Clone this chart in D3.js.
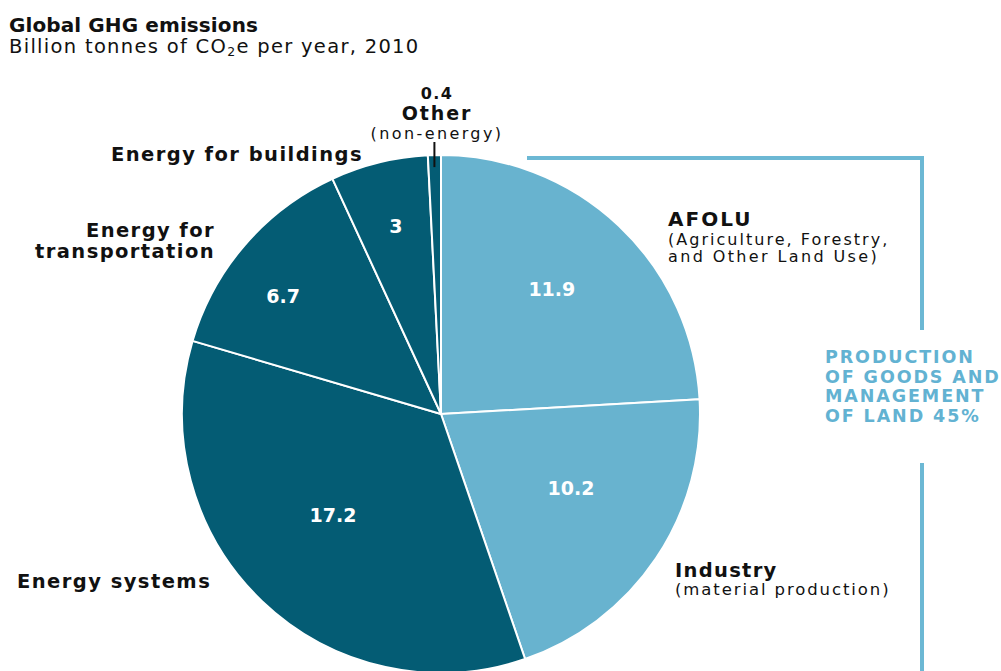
<!DOCTYPE html>
<html>
<head>
<meta charset="utf-8">
<script src="https://cdn.jsdelivr.net/npm/d3@7/dist/d3.min.js"></script>
<style>
  html, body { margin: 0; padding: 0; background: #fff; }
  svg { display: block; }
  text { font-family: "DejaVu Sans", "Noto Sans", sans-serif; }
</style>
</head>
<body>
<svg id="chart" width="1001" height="671"></svg>
<script>
// Global GHG emissions by sector, billion tonnes CO2e, 2010 (clockwise from top)
const sectors = ["AFOLU", "Industry", "Energy systems", "Energy for transportation", "Energy for buildings", "Other"];
const emissions = [11.9, 10.2, 17.2, 6.7, 3, 0.4];
const groups = ["production", "production", "energy", "energy", "energy", "energy"];
const valueLabels = ["11.9", "10.2", "17.2", "6.7", "3", "0.4"];

const svg = d3.select("#chart");
const W = 1001, H = 671;
const cx = 441, cy = 414, R = 259;

const color = d3.scaleOrdinal()
  .domain(["production", "energy"])
  .range(["#68b3cf", "#045c74"]);

const pie = d3.pie().sort(null).value(d => d.value);
const arcs = pie(sectors.map((s, i) => ({ name: s, value: emissions[i], group: groups[i], label: valueLabels[i] })));
const arc = d3.arc().innerRadius(0).outerRadius(R);

const g = svg.append("g").attr("transform", `translate(${cx},${cy})`);

g.selectAll("path.slice")
  .data(arcs)
  .enter().append("path")
  .attr("class", "slice")
  .attr("d", arc)
  .attr("fill", d => color(d.data.group))
  .attr("stroke", "#fff")
  .attr("stroke-width", 2)
  .attr("stroke-linejoin", "round");

// white value labels inside slices: radius (fraction of R) and angle nudge (deg) from mid-angle
// (the thin "Other" slice is labelled outside)
const labelPlace = [[0.645, -1.8], [0.578, -4.1], [0.572, 3.1], [0.761, -4.0], [0.746, 0.3]];
g.selectAll("text.val")
  .data(arcs.slice(0, 5))
  .enter().append("text")
  .attr("class", "val")
  .attr("transform", (d, i) => {
    const a = (d.startAngle + d.endAngle) / 2 + labelPlace[i][1] * Math.PI / 180;
    const r = R * labelPlace[i][0];
    return `translate(${r * Math.sin(a)},${-r * Math.cos(a) + 7})`;
  })
  .attr("text-anchor", "middle")
  .attr("fill", "#fff")
  .attr("font-weight", "bold")
  .attr("font-size", 19)
  .text(d => d.data.label);

// title
svg.append("text").attr("x", 9).attr("y", 32)
  .attr("font-weight", "bold").attr("font-size", 20).attr("fill", "#111")
  .attr("letter-spacing", 0.1)
  .text("Global GHG emissions");
const sub = svg.append("text").attr("x", 9).attr("y", 53)
  .attr("font-size", 19.5).attr("fill", "#111").attr("letter-spacing", 1.3);
sub.append("tspan").text("Billion tonnes of CO");
sub.append("tspan").attr("font-size", 12.5).attr("dy", 3).text("2");
sub.append("tspan").attr("dy", -3).text("e per year, 2010");

// category labels
function label(x, y, anchor, lines) {
  const t = svg.append("text").attr("x", x).attr("y", y).attr("text-anchor", anchor).attr("fill", "#111");
  lines.forEach((l, i) => {
    t.append("tspan").attr("x", x).attr("dy", i === 0 ? 0 : l.dy)
      .attr("font-weight", l.bold ? "bold" : "normal")
      .attr("font-size", l.size)
      .attr("letter-spacing", l.ls || 0)
      .text(l.text);
  });
}

label(437, 99, "middle", [{ text: valueLabels[5], bold: true, size: 16, ls: 1.4 }]);
label(437, 120, "middle", [
  { text: "Other", bold: true, size: 19, ls: 1.9 },
  { text: "(non-energy)", size: 16, dy: 19, ls: 2.4 }
]);
label(363, 161, "end", [{ text: "Energy for buildings", bold: true, size: 19.5, ls: 1.45 }]);
label(215, 237, "end", [
  { text: "Energy for", bold: true, size: 19.5, ls: 1.4 },
  { text: "transportation", size: 19.5, bold: true, dy: 21, ls: 1.4 }
]);
label(17, 588, "start", [{ text: "Energy systems", bold: true, size: 19.5, ls: 1.45 }]);
label(668, 226, "start", [
  { text: "AFOLU", bold: true, size: 20, ls: 2 },
  { text: "(Agriculture, Forestry,", size: 16, dy: 18.5, ls: 2.03 },
  { text: "and Other Land Use)", size: 16, dy: 17.5, ls: 2.38 }
]);
label(675, 577, "start", [
  { text: "Industry", bold: true, size: 19.5, ls: 1.3 },
  { text: "(material production)", size: 16.5, dy: 18, ls: 1.9 }
]);

// leader for the "Other" slice
const other = arcs[5];
const oa = (other.startAngle + other.endAngle) / 2;
svg.append("line")
  .attr("x1", cx + R * Math.sin(oa)).attr("x2", cx + R * Math.sin(oa))
  .attr("y1", 142).attr("y2", cy - R * Math.cos(oa) + 12)
  .attr("stroke", "#111").attr("stroke-width", 2);

// bracket spanning the production sectors
const bracketColor = "#6cb8d4";
svg.append("path")
  .attr("d", `M527,158 H922 V330`)
  .attr("fill", "none").attr("stroke", bracketColor).attr("stroke-width", 4);
svg.append("path")
  .attr("d", `M922,463 V${H}`)
  .attr("fill", "none").attr("stroke", bracketColor).attr("stroke-width", 4);

const share = Math.round(100 * d3.sum(emissions.filter((v, i) => groups[i] === "production")) / d3.sum(emissions));
const bt = svg.append("text").attr("fill", "#62b2d2").attr("font-weight", "bold").attr("font-size", 17.5).attr("letter-spacing", 1.9);
["PRODUCTION", "OF GOODS AND", "MANAGEMENT", `OF LAND ${share}%`].forEach((t, i) => {
  bt.append("tspan").attr("x", 825).attr("y", 363 + i * 19.5).text(t);
});
</script>
</body>
</html>
